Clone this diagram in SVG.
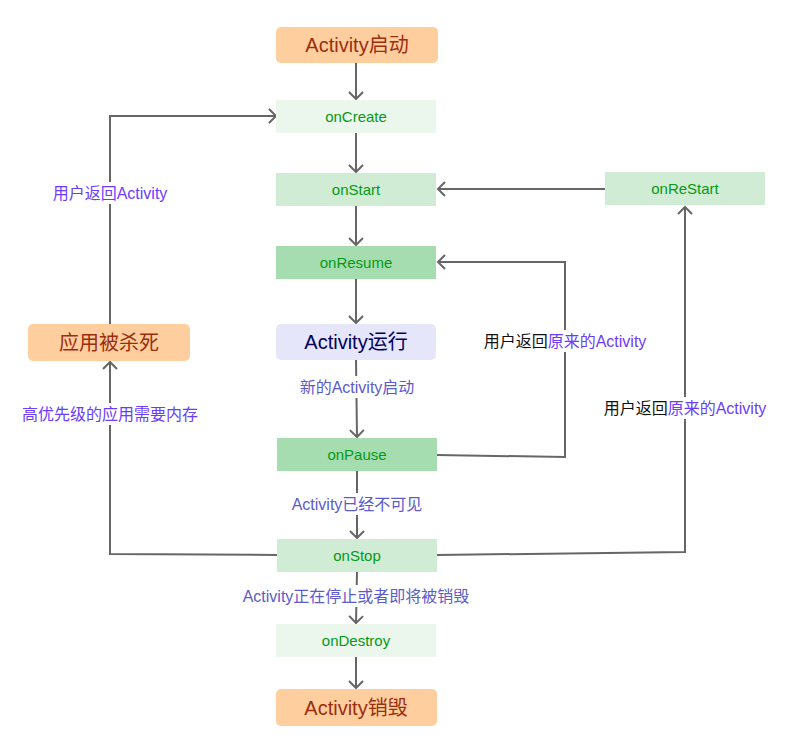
<svg xmlns="http://www.w3.org/2000/svg" width="790" height="749" viewBox="0 0 790 749">
<style>
  text { font-family: "Liberation Sans", "Noto Sans CJK SC", sans-serif; text-anchor: middle; }
  .edge { stroke: #666666; stroke-width: 2; fill: none; }
  .orange { fill: #FFCE9F; }
  .big { font-size: 20px; }
  .otext { fill: #9A2E10; }
  .state { font-size: 15px; fill: #059A16; }
  .c1 { fill: #EBF6EC; }
  .c2 { fill: #D0ECD4; }
  .c3 { fill: #A6DDB0; }
  .lbl { font-size: 16px; }
  .blue { fill: #5B5BCB; }
  .purple { fill: #6A3CFF; }
  .black { fill: #111111; }
  .bg { fill: #FFFFFF; }
</style>
<defs>
  <marker id="arr" markerUnits="userSpaceOnUse" viewBox="0 0 12 16" markerWidth="12" markerHeight="16" refX="10" refY="8" orient="auto">
    <path d="M3,1 L10,8 L3,15" fill="none" stroke="#666666" stroke-width="2"/>
  </marker>
</defs>
<rect width="790" height="749" fill="#FFFFFF"/>

<g id="connectors">
  <line class="edge" x1="356" y1="63" x2="356" y2="99" marker-end="url(#arr)"/>
  <line class="edge" x1="356" y1="133" x2="356" y2="172" marker-end="url(#arr)"/>
  <line class="edge" x1="356" y1="206" x2="356" y2="245" marker-end="url(#arr)"/>
  <line class="edge" x1="356" y1="279" x2="356" y2="323" marker-end="url(#arr)"/>
  <line class="edge" x1="356" y1="360" x2="357" y2="437" marker-end="url(#arr)"/>
  <line class="edge" x1="357" y1="471" x2="357" y2="538" marker-end="url(#arr)"/>
  <line class="edge" x1="357" y1="572" x2="356" y2="623" marker-end="url(#arr)"/>
  <line class="edge" x1="356" y1="657" x2="356" y2="688" marker-end="url(#arr)"/>
  <polyline class="edge" points="437,455 565,457 565,262 438,262" marker-end="url(#arr)"/>
  <polyline class="edge" points="437,555 685,552 685,207" marker-end="url(#arr)"/>
  <line class="edge" x1="605" y1="189" x2="438" y2="189" marker-end="url(#arr)"/>
  <polyline class="edge" points="277,555 110,554 110,362" marker-end="url(#arr)"/>
  <polyline class="edge" points="110,324 110,116 276,116" marker-end="url(#arr)"/>

  <g id="labels">
    <rect class="bg" x="296" y="376" width="122" height="22"/>
    <text class="lbl blue" x="357" y="393">新的Activity启动</text>
    <rect class="bg" x="289" y="493" width="136" height="22"/>
    <text class="lbl blue" x="357" y="510">Activity已经不可见</text>
    <rect class="bg" x="239" y="585" width="235" height="22"/>
    <text class="lbl blue" x="356" y="602">Activity正在停止或者即将被销毁</text>
    <rect class="bg" x="49" y="182" width="122" height="22"/>
    <text class="lbl purple" x="110" y="199">用户返回Activity</text>
    <rect class="bg" x="24" y="403" width="172" height="22"/>
    <text class="lbl purple" x="110" y="420">高优先级的应用需要内存</text>
    <rect class="bg" x="480" y="330" width="170" height="22"/>
    <text class="lbl" x="565" y="347"><tspan class="black">用户返回</tspan><tspan class="purple">原来的Activity</tspan></text>
    <rect class="bg" x="600" y="397" width="170" height="22"/>
    <text class="lbl" x="685" y="414"><tspan class="black">用户返回</tspan><tspan class="purple">原来的Activity</tspan></text>
  </g>
</g>

<g id="n-start">
  <rect class="orange" x="276" y="27" width="162" height="36" rx="5"/>
  <text class="big otext" x="357" y="52">Activity启动</text>
</g>
<g id="n-oncreate">
  <rect class="c1" x="276" y="100" width="160" height="33"/>
  <text class="state" x="356" y="122">onCreate</text>
</g>
<g id="n-onstart">
  <rect class="c2" x="276" y="173" width="160" height="33"/>
  <text class="state" x="356" y="195">onStart</text>
</g>
<g id="n-onresume">
  <rect class="c3" x="276" y="246" width="160" height="33"/>
  <text class="state" x="356" y="268">onResume</text>
</g>
<g id="n-running">
  <rect fill="#E6E6FA" x="276" y="324" width="160" height="36" rx="5"/>
  <text class="big" fill="#00005E" x="356" y="349">Activity运行</text>
</g>
<g id="n-onpause">
  <rect class="c3" x="277" y="438" width="160" height="33"/>
  <text class="state" x="357" y="460">onPause</text>
</g>
<g id="n-onstop">
  <rect class="c2" x="277" y="539" width="160" height="33"/>
  <text class="state" x="357" y="561">onStop</text>
</g>
<g id="n-ondestroy">
  <rect class="c1" x="276" y="624" width="160" height="33"/>
  <text class="state" x="356" y="646">onDestroy</text>
</g>
<g id="n-destroyed">
  <rect class="orange" x="276" y="689" width="161" height="37" rx="5"/>
  <text class="big otext" x="356" y="715">Activity销毁</text>
</g>
<g id="n-onrestart">
  <rect class="c2" x="605" y="172" width="160" height="33"/>
  <text class="state" x="685" y="194">onReStart</text>
</g>
<g id="n-killed">
  <rect class="orange" x="28" y="324" width="162" height="37" rx="5"/>
  <text class="big otext" x="109" y="350">应用被杀死</text>
</g>
</svg>
